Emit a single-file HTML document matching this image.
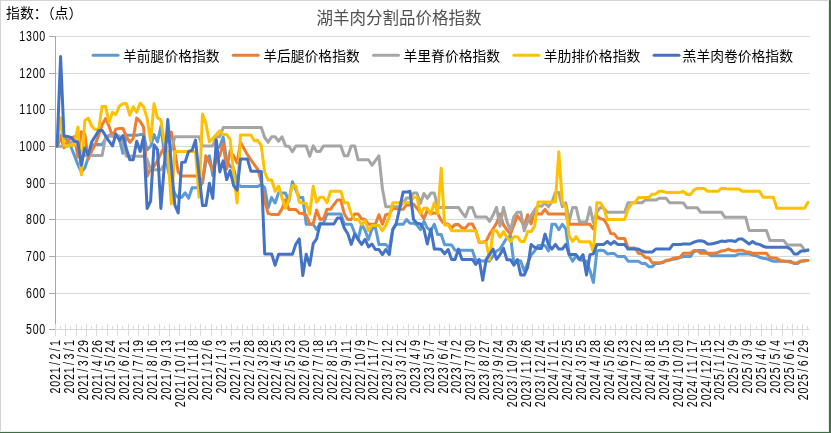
<!DOCTYPE html>
<html lang="zh"><head><meta charset="utf-8"><title>湖羊肉分割品价格指数</title>
<style>
html,body{margin:0;padding:0;background:#fff;}
body{width:831px;height:433px;overflow:hidden;font-family:"Liberation Sans",sans-serif;}
svg{display:block;will-change:transform}
.num{font-family:"Liberation Sans",sans-serif;font-size:13.33px;fill:#000;}
.cjk{font-family:"Liberation Sans","Noto Sans CJK SC",sans-serif;}
</style></head><body>
<svg width="831" height="433" viewBox="0 0 831 433">
<rect x="0" y="0" width="831" height="433" fill="#fff"/>

<g fill="#d9d9d9">
<rect x="56" y="36" width="754" height="1"/>
<rect x="56" y="73" width="754" height="1"/>
<rect x="56" y="109" width="754" height="1"/>
<rect x="56" y="146" width="754" height="1"/>
<rect x="56" y="183" width="754" height="1"/>
<rect x="56" y="219" width="754" height="1"/>
<rect x="56" y="256" width="754" height="1"/>
<rect x="56" y="293" width="754" height="1"/>
<rect x="56" y="329" width="754" height="1"/>
</g>
<g fill="#d9d9d9">
<rect x="55" y="324" width="1" height="12"/>
<rect x="60" y="326" width="1" height="3"/>
<rect x="65" y="324" width="1" height="12"/>
<rect x="70" y="326" width="1" height="3"/>
<rect x="76" y="324" width="1" height="12"/>
<rect x="81" y="326" width="1" height="3"/>
<rect x="86" y="324" width="1" height="12"/>
<rect x="91" y="326" width="1" height="3"/>
<rect x="96" y="324" width="1" height="12"/>
<rect x="102" y="326" width="1" height="3"/>
<rect x="107" y="324" width="1" height="12"/>
<rect x="112" y="326" width="1" height="3"/>
<rect x="117" y="324" width="1" height="12"/>
<rect x="122" y="326" width="1" height="3"/>
<rect x="128" y="324" width="1" height="12"/>
<rect x="133" y="326" width="1" height="3"/>
<rect x="138" y="324" width="1" height="12"/>
<rect x="143" y="326" width="1" height="3"/>
<rect x="148" y="324" width="1" height="12"/>
<rect x="154" y="326" width="1" height="3"/>
<rect x="159" y="324" width="1" height="12"/>
<rect x="164" y="326" width="1" height="3"/>
<rect x="169" y="324" width="1" height="12"/>
<rect x="174" y="326" width="1" height="3"/>
<rect x="179" y="324" width="1" height="12"/>
<rect x="185" y="326" width="1" height="3"/>
<rect x="190" y="324" width="1" height="12"/>
<rect x="195" y="326" width="1" height="3"/>
<rect x="200" y="324" width="1" height="12"/>
<rect x="205" y="326" width="1" height="3"/>
<rect x="211" y="324" width="1" height="12"/>
<rect x="216" y="326" width="1" height="3"/>
<rect x="221" y="324" width="1" height="12"/>
<rect x="226" y="326" width="1" height="3"/>
<rect x="231" y="324" width="1" height="12"/>
<rect x="237" y="326" width="1" height="3"/>
<rect x="242" y="324" width="1" height="12"/>
<rect x="247" y="326" width="1" height="3"/>
<rect x="252" y="324" width="1" height="12"/>
<rect x="257" y="326" width="1" height="3"/>
<rect x="263" y="324" width="1" height="12"/>
<rect x="268" y="326" width="1" height="3"/>
<rect x="273" y="324" width="1" height="12"/>
<rect x="278" y="326" width="1" height="3"/>
<rect x="283" y="324" width="1" height="12"/>
<rect x="288" y="326" width="1" height="3"/>
<rect x="294" y="324" width="1" height="12"/>
<rect x="299" y="326" width="1" height="3"/>
<rect x="304" y="324" width="1" height="12"/>
<rect x="309" y="326" width="1" height="3"/>
<rect x="314" y="324" width="1" height="12"/>
<rect x="320" y="326" width="1" height="3"/>
<rect x="325" y="324" width="1" height="12"/>
<rect x="330" y="326" width="1" height="3"/>
<rect x="335" y="324" width="1" height="12"/>
<rect x="340" y="326" width="1" height="3"/>
<rect x="346" y="324" width="1" height="12"/>
<rect x="351" y="326" width="1" height="3"/>
<rect x="356" y="324" width="1" height="12"/>
<rect x="361" y="326" width="1" height="3"/>
<rect x="366" y="324" width="1" height="12"/>
<rect x="371" y="326" width="1" height="3"/>
<rect x="377" y="324" width="1" height="12"/>
<rect x="382" y="326" width="1" height="3"/>
<rect x="387" y="324" width="1" height="12"/>
<rect x="392" y="326" width="1" height="3"/>
<rect x="397" y="324" width="1" height="12"/>
<rect x="403" y="326" width="1" height="3"/>
<rect x="408" y="324" width="1" height="12"/>
<rect x="413" y="326" width="1" height="3"/>
<rect x="418" y="324" width="1" height="12"/>
<rect x="423" y="326" width="1" height="3"/>
<rect x="429" y="324" width="1" height="12"/>
<rect x="434" y="326" width="1" height="3"/>
<rect x="439" y="324" width="1" height="12"/>
<rect x="444" y="326" width="1" height="3"/>
<rect x="449" y="324" width="1" height="12"/>
<rect x="455" y="326" width="1" height="3"/>
<rect x="460" y="324" width="1" height="12"/>
<rect x="465" y="326" width="1" height="3"/>
<rect x="470" y="324" width="1" height="12"/>
<rect x="475" y="326" width="1" height="3"/>
<rect x="480" y="324" width="1" height="12"/>
<rect x="486" y="326" width="1" height="3"/>
<rect x="491" y="324" width="1" height="12"/>
<rect x="496" y="326" width="1" height="3"/>
<rect x="501" y="324" width="1" height="12"/>
<rect x="506" y="326" width="1" height="3"/>
<rect x="512" y="324" width="1" height="12"/>
<rect x="517" y="326" width="1" height="3"/>
<rect x="522" y="324" width="1" height="12"/>
<rect x="527" y="326" width="1" height="3"/>
<rect x="532" y="324" width="1" height="12"/>
<rect x="538" y="326" width="1" height="3"/>
<rect x="543" y="324" width="1" height="12"/>
<rect x="548" y="326" width="1" height="3"/>
<rect x="553" y="324" width="1" height="12"/>
<rect x="558" y="326" width="1" height="3"/>
<rect x="564" y="324" width="1" height="12"/>
<rect x="569" y="326" width="1" height="3"/>
<rect x="574" y="324" width="1" height="12"/>
<rect x="579" y="326" width="1" height="3"/>
<rect x="584" y="324" width="1" height="12"/>
<rect x="589" y="326" width="1" height="3"/>
<rect x="595" y="324" width="1" height="12"/>
<rect x="600" y="326" width="1" height="3"/>
<rect x="605" y="324" width="1" height="12"/>
<rect x="610" y="326" width="1" height="3"/>
<rect x="615" y="324" width="1" height="12"/>
<rect x="621" y="326" width="1" height="3"/>
<rect x="626" y="324" width="1" height="12"/>
<rect x="631" y="326" width="1" height="3"/>
<rect x="636" y="324" width="1" height="12"/>
<rect x="641" y="326" width="1" height="3"/>
<rect x="647" y="324" width="1" height="12"/>
<rect x="652" y="326" width="1" height="3"/>
<rect x="657" y="324" width="1" height="12"/>
<rect x="662" y="326" width="1" height="3"/>
<rect x="667" y="324" width="1" height="12"/>
<rect x="673" y="326" width="1" height="3"/>
<rect x="678" y="324" width="1" height="12"/>
<rect x="683" y="326" width="1" height="3"/>
<rect x="688" y="324" width="1" height="12"/>
<rect x="693" y="326" width="1" height="3"/>
<rect x="698" y="324" width="1" height="12"/>
<rect x="704" y="326" width="1" height="3"/>
<rect x="709" y="324" width="1" height="12"/>
<rect x="714" y="326" width="1" height="3"/>
<rect x="719" y="324" width="1" height="12"/>
<rect x="724" y="326" width="1" height="3"/>
<rect x="730" y="324" width="1" height="12"/>
<rect x="735" y="326" width="1" height="3"/>
<rect x="740" y="324" width="1" height="12"/>
<rect x="745" y="326" width="1" height="3"/>
<rect x="750" y="324" width="1" height="12"/>
<rect x="756" y="326" width="1" height="3"/>
<rect x="761" y="324" width="1" height="12"/>
<rect x="766" y="326" width="1" height="3"/>
<rect x="771" y="324" width="1" height="12"/>
<rect x="776" y="326" width="1" height="3"/>
<rect x="782" y="324" width="1" height="12"/>
<rect x="787" y="326" width="1" height="3"/>
<rect x="792" y="324" width="1" height="12"/>
<rect x="797" y="326" width="1" height="3"/>
<rect x="802" y="324" width="1" height="12"/>
<rect x="807" y="326" width="1" height="3"/>
</g>
<g fill="#a6a6a6">
<rect x="55" y="36" width="1" height="288"/>
<rect x="49" y="36" width="6" height="1"/>
<rect x="49" y="73" width="6" height="1"/>
<rect x="49" y="109" width="6" height="1"/>
<rect x="49" y="146" width="6" height="1"/>
<rect x="49" y="183" width="6" height="1"/>
<rect x="49" y="219" width="6" height="1"/>
<rect x="49" y="256" width="6" height="1"/>
<rect x="49" y="293" width="6" height="1"/>
<rect x="49" y="329" width="6" height="1"/>
</g>
<polyline fill="none" stroke="#5B9BD5" stroke-width="3" stroke-linejoin="round" stroke-linecap="round" points="57.1,146.3 60.6,135.3 64.0,137.2 67.5,140.4 71.0,147.0 74.4,155.4 77.9,164.6 81.3,171.9 84.8,167.9 88.3,157.6 91.7,145.2 95.2,144.5 98.7,144.5 102.1,144.5 105.6,139.0 109.0,135.3 112.5,135.3 115.9,135.3 119.4,139.0 122.9,153.3 126.3,135.3 129.8,135.3 133.2,135.3 136.7,135.3 140.2,134.6 143.6,134.6 147.1,150.0 150.6,146.3 154.0,134.6 157.5,141.9 160.9,126.5 164.4,153.6 167.8,168.3 171.3,182.9 174.8,193.9 178.2,197.5 181.7,197.2 185.2,192.8 188.6,198.3 192.1,187.7 195.5,187.7 199.0,187.7 202.5,182.9 205.9,160.9 209.4,155.8 212.8,175.6 216.3,150.0 219.8,146.3 223.2,137.2 226.7,160.9 230.1,166.4 233.6,168.3 237.1,182.9 240.5,186.6 244.0,186.6 247.4,186.6 250.9,186.6 254.3,186.6 257.8,186.6 261.3,184.4 264.7,187.7 268.2,207.8 271.6,197.5 275.1,203.0 278.6,192.8 282.0,193.1 285.5,193.1 288.9,201.2 292.4,181.8 295.9,190.2 299.3,197.5 302.8,197.5 306.2,224.3 309.7,224.3 313.2,224.3 316.6,229.7 320.1,223.2 323.5,223.2 327.0,214.0 330.5,214.0 333.9,214.0 337.4,214.0 340.8,214.0 344.3,224.3 347.8,224.3 351.2,224.3 354.7,233.0 358.1,239.3 361.6,224.3 365.1,230.5 368.5,239.6 372.0,228.7 375.4,227.2 378.9,244.4 382.4,244.4 385.8,244.4 389.3,248.8 392.8,229.4 396.2,224.3 399.7,224.3 403.1,224.3 406.6,219.5 410.0,223.2 413.5,223.2 417.0,225.0 420.4,229.7 423.9,221.3 427.3,227.9 430.8,230.8 434.3,224.3 437.7,234.5 441.2,234.5 444.6,244.8 448.1,244.8 451.6,245.1 455.0,250.2 458.5,250.2 461.9,250.2 465.4,250.2 468.9,250.2 472.3,250.2 475.8,260.5 479.2,260.5 482.7,260.9 486.2,260.9 489.6,260.9 493.1,256.1 496.5,251.0 500.0,249.1 503.5,243.3 506.9,237.8 510.4,236.0 513.9,263.4 517.3,259.8 520.8,261.2 524.2,271.1 527.7,263.4 531.1,255.0 534.6,251.0 538.1,245.5 541.5,245.5 545.0,245.5 548.5,251.0 551.9,224.3 555.4,224.3 558.8,229.7 562.3,224.3 565.8,228.7 569.2,255.0 572.7,261.2 576.1,255.7 579.6,259.8 583.0,260.5 586.5,261.2 590.0,270.7 593.4,282.5 596.9,251.0 600.4,250.2 603.8,250.6 607.3,253.9 610.7,253.5 614.2,253.5 617.6,256.5 621.1,256.5 624.6,256.5 628.0,261.2 631.5,261.2 634.9,261.2 638.4,261.2 641.9,263.4 645.3,263.4 648.8,266.7 652.2,266.7 655.7,263.4 659.2,263.4 662.6,262.3 666.1,260.5 669.5,260.1 673.0,259.4 676.5,258.7 679.9,257.6 683.4,256.5 686.9,256.5 690.3,256.5 693.8,251.7 697.2,250.6 700.7,250.6 704.1,250.6 707.6,253.5 711.1,255.7 714.5,255.4 718.0,255.7 721.4,255.7 724.9,255.7 728.4,255.7 731.8,255.7 735.3,255.7 738.8,253.9 742.2,253.9 745.7,253.9 749.1,253.9 752.6,255.0 756.0,255.7 759.5,257.2 763.0,258.3 766.4,258.7 769.9,260.1 773.4,261.2 776.8,261.2 780.3,261.2 783.7,261.2 787.2,261.2 790.6,261.2 794.1,263.4 797.6,263.4 801.0,261.2 804.5,260.9 807.9,260.5"/>
<polyline fill="none" stroke="#ED7D31" stroke-width="3" stroke-linejoin="round" stroke-linecap="round" points="57.1,146.3 60.6,137.2 64.0,147.8 67.5,140.8 71.0,137.9 74.4,136.8 77.9,156.9 81.3,131.7 84.8,134.2 88.3,159.1 91.7,151.1 95.2,144.5 98.7,135.3 102.1,124.7 105.6,118.5 109.0,126.2 112.5,136.4 115.9,129.1 119.4,128.4 122.9,128.4 126.3,136.4 129.8,142.3 133.2,138.6 136.7,118.1 140.2,121.4 143.6,127.3 147.1,176.3 150.6,168.3 154.0,166.4 157.5,160.6 160.9,153.3 164.4,146.3 167.8,139.0 171.3,132.0 174.8,151.4 178.2,171.9 181.7,175.9 185.2,175.9 188.6,175.9 192.1,175.9 195.5,175.9 199.0,178.5 202.5,181.1 205.9,155.8 209.4,162.8 212.8,170.1 216.3,160.9 219.8,155.4 223.2,143.7 226.7,169.0 230.1,151.1 233.6,155.8 237.1,162.8 240.5,142.3 244.0,148.5 247.4,154.7 250.9,159.8 254.3,164.6 257.8,169.4 261.3,181.8 264.7,201.2 268.2,213.6 271.6,214.4 275.1,214.4 278.6,214.4 282.0,208.9 285.5,199.7 288.9,209.6 292.4,209.6 295.9,209.6 299.3,213.3 302.8,213.6 306.2,215.1 309.7,223.9 313.2,223.9 316.6,210.0 320.1,219.5 323.5,218.8 327.0,209.3 330.5,209.3 333.9,204.5 337.4,200.1 340.8,200.1 344.3,214.0 347.8,219.5 351.2,219.5 354.7,214.0 358.1,214.0 361.6,218.8 365.1,219.5 368.5,224.3 372.0,224.3 375.4,224.3 378.9,214.7 382.4,224.3 385.8,214.7 389.3,214.0 392.8,208.5 396.2,208.5 399.7,209.3 403.1,209.3 406.6,204.9 410.0,204.9 413.5,204.1 417.0,208.2 420.4,212.9 423.9,218.8 427.3,210.3 430.8,214.0 434.3,212.9 437.7,213.6 441.2,220.2 444.6,223.9 448.1,223.9 451.6,227.9 455.0,224.6 458.5,224.6 461.9,227.9 465.4,227.9 468.9,223.9 472.3,223.9 475.8,230.8 479.2,242.2 482.7,242.2 486.2,241.1 489.6,234.1 493.1,228.7 496.5,223.2 500.0,214.0 503.5,225.0 506.9,229.7 510.4,234.1 513.9,225.0 517.3,215.8 520.8,220.2 524.2,226.1 527.7,214.7 531.1,223.9 534.6,210.0 538.1,214.0 541.5,214.0 545.0,209.3 548.5,214.0 551.9,214.0 555.4,214.0 558.8,214.0 562.3,214.0 565.8,214.0 569.2,224.3 572.7,224.3 576.1,224.3 579.6,224.3 583.0,224.3 586.5,224.3 590.0,224.3 593.4,229.0 596.9,215.8 600.4,218.8 603.8,219.5 607.3,225.0 610.7,233.4 614.2,233.8 617.6,238.2 621.1,238.5 624.6,238.5 628.0,248.0 631.5,248.0 634.9,248.0 638.4,253.2 641.9,253.9 645.3,257.6 648.8,257.9 652.2,262.7 655.7,262.7 659.2,262.7 662.6,262.7 666.1,260.5 669.5,260.1 673.0,258.3 676.5,257.6 679.9,257.2 683.4,253.2 686.9,253.2 690.3,253.2 693.8,250.6 697.2,250.6 700.7,253.2 704.1,253.2 707.6,253.2 711.1,253.2 714.5,253.2 718.0,252.4 721.4,251.0 724.9,250.6 728.4,249.1 731.8,250.6 735.3,251.0 738.8,250.2 742.2,250.2 745.7,251.7 749.1,252.1 752.6,253.2 756.0,253.2 759.5,253.2 763.0,253.2 766.4,253.2 769.9,257.6 773.4,257.9 776.8,258.3 780.3,260.5 783.7,260.9 787.2,261.6 790.6,262.3 794.1,263.1 797.6,262.7 801.0,260.9 804.5,260.5 807.9,260.5"/>
<polyline fill="none" stroke="#A5A5A5" stroke-width="3" stroke-linejoin="round" stroke-linecap="round" points="57.1,146.3 60.6,146.3 64.0,146.3 67.5,146.3 71.0,141.9 74.4,141.9 77.9,146.3 81.3,151.8 84.8,155.4 88.3,155.4 91.7,155.4 95.2,155.4 98.7,155.4 102.1,155.4 105.6,136.4 109.0,136.1 112.5,136.1 115.9,136.1 119.4,136.1 122.9,142.6 126.3,156.2 129.8,156.2 133.2,156.2 136.7,156.2 140.2,156.2 143.6,156.2 147.1,159.1 150.6,169.7 154.0,169.7 157.5,169.7 160.9,169.7 164.4,164.6 167.8,157.3 171.3,150.0 174.8,136.8 178.2,136.8 181.7,136.8 185.2,136.8 188.6,136.8 192.1,136.8 195.5,136.8 199.0,136.8 202.5,145.9 205.9,145.9 209.4,145.9 212.8,145.9 216.3,136.8 219.8,136.8 223.2,127.6 226.7,127.6 230.1,127.6 233.6,127.6 237.1,127.6 240.5,127.6 244.0,127.6 247.4,127.6 250.9,127.6 254.3,127.6 257.8,127.6 261.3,127.6 264.7,137.5 268.2,142.3 271.6,136.8 275.1,136.8 278.6,141.2 282.0,136.8 285.5,145.9 288.9,146.3 292.4,151.8 295.9,145.9 299.3,145.9 302.8,145.9 306.2,145.9 309.7,156.2 313.2,145.9 316.6,151.4 320.1,151.4 323.5,145.9 327.0,145.9 330.5,145.9 333.9,145.9 337.4,145.9 340.8,145.9 344.3,155.8 347.8,155.8 351.2,145.9 354.7,145.9 358.1,159.8 361.6,159.8 365.1,159.8 368.5,159.8 372.0,165.3 375.4,160.6 378.9,155.8 382.4,188.4 385.8,206.7 389.3,206.7 392.8,206.7 396.2,206.7 399.7,206.7 403.1,203.0 406.6,197.9 410.0,197.9 413.5,193.1 417.0,193.1 420.4,203.4 423.9,193.5 427.3,198.3 430.8,193.1 434.3,193.1 437.7,207.4 441.2,207.4 444.6,207.4 448.1,207.4 451.6,207.4 455.0,207.4 458.5,207.4 461.9,212.5 465.4,216.9 468.9,207.4 472.3,207.4 475.8,216.9 479.2,216.9 482.7,216.9 486.2,216.9 489.6,221.3 493.1,215.1 496.5,207.4 500.0,226.1 503.5,207.4 506.9,221.3 510.4,230.8 513.9,216.6 517.3,212.2 520.8,212.2 524.2,230.8 527.7,221.3 531.1,215.8 534.6,210.0 538.1,205.6 541.5,206.3 545.0,203.0 548.5,206.7 551.9,201.9 555.4,192.4 558.8,192.4 562.3,206.7 565.8,202.7 569.2,221.3 572.7,207.4 576.1,207.4 579.6,222.1 583.0,222.1 586.5,222.1 590.0,207.4 593.4,222.4 596.9,212.2 600.4,207.4 603.8,208.2 607.3,212.2 610.7,212.2 614.2,212.2 617.6,212.2 621.1,212.2 624.6,212.2 628.0,202.7 631.5,202.7 634.9,202.7 638.4,202.7 641.9,202.7 645.3,200.1 648.8,200.1 652.2,200.1 655.7,200.1 659.2,198.3 662.6,198.3 666.1,198.3 669.5,202.7 673.0,202.7 676.5,202.7 679.9,202.7 683.4,203.0 686.9,207.8 690.3,207.8 693.8,207.8 697.2,207.8 700.7,212.2 704.1,212.2 707.6,212.2 711.1,212.2 714.5,212.2 718.0,212.2 721.4,212.2 724.9,217.3 728.4,217.3 731.8,217.3 735.3,217.3 738.8,217.3 742.2,217.3 745.7,217.3 749.1,230.5 752.6,230.5 756.0,230.5 759.5,230.5 763.0,230.5 766.4,230.5 769.9,240.4 773.4,240.4 776.8,240.4 780.3,240.4 783.7,240.4 787.2,245.1 790.6,245.1 794.1,245.1 797.6,245.1 801.0,245.1 804.5,249.9 807.9,250.6"/>
<polyline fill="none" stroke="#FFC000" stroke-width="3" stroke-linejoin="round" stroke-linecap="round" points="57.1,146.3 60.6,117.8 64.0,145.2 67.5,145.6 71.0,145.2 74.4,145.2 77.9,126.9 81.3,174.8 84.8,120.7 88.3,118.1 91.7,126.2 95.2,129.5 98.7,129.1 102.1,106.4 105.6,106.4 109.0,122.5 112.5,112.3 115.9,114.5 119.4,106.0 122.9,103.8 126.3,103.5 129.8,115.2 133.2,106.8 136.7,112.3 140.2,103.1 143.6,106.8 147.1,118.1 150.6,141.2 154.0,103.8 157.5,117.8 160.9,119.9 164.4,142.6 167.8,151.8 171.3,203.8 174.8,151.4 178.2,151.4 181.7,151.4 185.2,151.4 188.6,151.4 192.1,151.4 195.5,151.4 199.0,197.2 202.5,114.1 205.9,123.6 209.4,141.9 212.8,138.2 216.3,134.6 219.8,130.9 223.2,134.6 226.7,134.6 230.1,139.3 233.6,171.9 237.1,203.0 240.5,135.0 244.0,135.0 247.4,135.0 250.9,135.0 254.3,140.8 257.8,140.4 261.3,145.9 264.7,172.3 268.2,180.0 271.6,180.0 275.1,191.3 278.6,186.2 282.0,197.5 285.5,208.2 288.9,199.7 292.4,185.5 295.9,186.2 299.3,202.3 302.8,203.0 306.2,203.4 309.7,214.0 313.2,186.2 316.6,202.3 320.1,197.2 323.5,197.2 327.0,202.7 330.5,191.3 333.9,191.3 337.4,191.3 340.8,191.3 344.3,202.7 347.8,202.7 351.2,214.0 354.7,219.5 358.1,219.5 361.6,224.6 365.1,220.6 368.5,230.8 372.0,225.4 375.4,225.4 378.9,225.4 382.4,230.8 385.8,225.4 389.3,216.9 392.8,202.7 396.2,202.7 399.7,202.7 403.1,202.7 406.6,202.7 410.0,202.7 413.5,197.2 417.0,197.2 420.4,213.6 423.9,208.2 427.3,208.2 430.8,213.6 434.3,202.7 437.7,213.6 441.2,168.3 444.6,225.0 448.1,225.0 451.6,230.8 455.0,230.8 458.5,230.8 461.9,230.8 465.4,230.8 468.9,230.8 472.3,230.8 475.8,230.8 479.2,242.2 482.7,242.2 486.2,242.2 489.6,259.8 493.1,230.8 496.5,230.8 500.0,237.1 503.5,231.6 506.9,237.1 510.4,241.5 513.9,236.7 517.3,236.7 520.8,241.5 524.2,241.5 527.7,231.6 531.1,231.6 534.6,226.1 538.1,201.9 541.5,201.9 545.0,201.9 548.5,201.9 551.9,201.9 555.4,201.9 558.8,151.8 562.3,201.9 565.8,207.4 569.2,236.3 572.7,241.5 576.1,236.7 579.6,241.8 583.0,241.8 586.5,241.8 590.0,241.8 593.4,251.7 596.9,202.7 600.4,202.7 603.8,208.2 607.3,219.5 610.7,219.5 614.2,219.5 617.6,219.5 621.1,219.5 624.6,219.5 628.0,209.3 631.5,203.4 634.9,202.7 638.4,197.5 641.9,197.5 645.3,197.5 648.8,197.5 652.2,194.2 655.7,193.9 659.2,191.3 662.6,191.3 666.1,192.4 669.5,192.4 673.0,192.4 676.5,192.4 679.9,192.4 683.4,191.3 686.9,194.6 690.3,194.6 693.8,190.2 697.2,188.4 700.7,188.4 704.1,188.4 707.6,191.3 711.1,191.3 714.5,191.3 718.0,191.3 721.4,188.4 724.9,188.4 728.4,189.1 731.8,189.1 735.3,189.1 738.8,189.1 742.2,191.3 745.7,191.3 749.1,191.3 752.6,191.3 756.0,191.3 759.5,191.3 763.0,197.2 766.4,197.2 769.9,197.2 773.4,197.2 776.8,208.2 780.3,208.2 783.7,208.2 787.2,208.2 790.6,208.2 794.1,208.2 797.6,208.2 801.0,208.2 804.5,208.2 807.9,202.3"/>
<polyline fill="none" stroke="#4472C4" stroke-width="3" stroke-linejoin="round" stroke-linecap="round" points="57.1,146.3 60.6,56.6 64.0,136.1 67.5,136.4 71.0,137.5 74.4,141.2 77.9,141.9 81.3,165.3 84.8,148.1 88.3,155.1 91.7,141.9 95.2,136.4 98.7,130.6 102.1,130.2 105.6,135.7 109.0,141.2 112.5,145.9 115.9,133.9 119.4,140.4 122.9,135.7 126.3,148.5 129.8,159.8 133.2,159.8 136.7,141.2 140.2,151.4 143.6,136.8 147.1,208.5 150.6,201.2 154.0,144.8 157.5,149.6 160.9,208.5 164.4,164.6 167.8,119.6 171.3,164.6 174.8,204.9 178.2,212.9 181.7,162.4 185.2,162.0 188.6,151.4 192.1,150.3 195.5,140.1 199.0,173.8 202.5,205.6 205.9,205.6 209.4,183.3 212.8,198.3 216.3,140.1 219.8,171.9 223.2,160.9 226.7,179.6 230.1,170.5 233.6,185.5 237.1,190.2 240.5,159.1 244.0,159.1 247.4,159.1 250.9,171.2 254.3,171.2 257.8,171.2 261.3,171.6 264.7,253.9 268.2,253.9 271.6,253.9 275.1,265.2 278.6,254.3 282.0,254.3 285.5,254.3 288.9,254.3 292.4,254.3 295.9,244.0 299.3,238.9 302.8,275.5 306.2,254.3 309.7,265.2 313.2,243.7 316.6,238.9 320.1,223.9 323.5,223.9 327.0,223.9 330.5,223.9 333.9,223.9 337.4,218.0 340.8,218.0 344.3,228.3 347.8,233.8 351.2,244.4 354.7,234.1 358.1,239.3 361.6,244.4 365.1,239.3 368.5,246.9 372.0,244.0 375.4,249.5 378.9,249.5 382.4,254.6 385.8,249.5 389.3,254.6 392.8,229.4 396.2,223.5 399.7,208.2 403.1,192.1 406.6,192.1 410.0,191.3 413.5,219.5 417.0,223.2 420.4,223.9 423.9,229.0 427.3,244.0 430.8,229.0 434.3,249.1 437.7,249.1 441.2,249.5 444.6,253.9 448.1,249.5 451.6,259.4 455.0,259.4 458.5,249.1 461.9,259.4 465.4,259.4 468.9,259.4 472.3,259.4 475.8,264.5 479.2,259.4 482.7,280.3 486.2,259.4 489.6,254.3 493.1,249.1 496.5,259.4 500.0,254.6 503.5,248.4 506.9,259.8 510.4,259.8 513.9,265.2 517.3,259.8 520.8,275.1 524.2,275.1 527.7,267.1 531.1,244.4 534.6,247.3 538.1,248.4 541.5,248.4 545.0,234.1 548.5,244.4 551.9,249.1 555.4,244.4 558.8,249.1 562.3,249.1 565.8,244.4 569.2,254.6 572.7,254.6 576.1,254.6 579.6,259.4 583.0,254.6 586.5,275.1 590.0,254.6 593.4,253.9 596.9,244.4 600.4,244.4 603.8,244.4 607.3,241.5 610.7,244.4 614.2,241.5 617.6,244.4 621.1,244.4 624.6,244.4 628.0,249.1 631.5,249.1 634.9,249.1 638.4,249.1 641.9,251.0 645.3,252.1 648.8,252.1 652.2,252.1 655.7,249.1 659.2,249.1 662.6,249.1 666.1,249.1 669.5,249.1 673.0,244.4 676.5,244.4 679.9,244.4 683.4,244.0 686.9,244.0 690.3,244.0 693.8,242.2 697.2,241.1 700.7,240.7 704.1,241.5 707.6,244.0 711.1,244.0 714.5,243.3 718.0,242.2 721.4,241.1 724.9,241.5 728.4,240.7 731.8,240.7 735.3,241.5 738.8,238.9 742.2,238.9 745.7,241.5 749.1,244.0 752.6,241.5 756.0,243.7 759.5,244.4 763.0,246.2 766.4,247.3 769.9,247.3 773.4,247.3 776.8,247.3 780.3,247.3 783.7,247.3 787.2,247.3 790.6,249.1 794.1,253.9 797.6,253.9 801.0,251.0 804.5,251.0 807.9,249.9"/>
<text class="num" text-anchor="middle" transform="translate(45.6,41.4) scale(0.8,1.03)" x="-29.18 -20.84 -12.51 -4.17" y="0">1300</text>
<text class="num" text-anchor="middle" transform="translate(45.6,78.4) scale(0.8,1.03)" x="-29.18 -20.84 -12.51 -4.17" y="0">1200</text>
<text class="num" text-anchor="middle" transform="translate(45.6,114.4) scale(0.8,1.03)" x="-29.18 -20.84 -12.51 -4.17" y="0">1100</text>
<text class="num" text-anchor="middle" transform="translate(45.6,151.4) scale(0.8,1.03)" x="-29.18 -20.84 -12.51 -4.17" y="0">1000</text>
<text class="num" text-anchor="middle" transform="translate(45.6,188.4) scale(0.8,1.03)" x="-20.84 -12.51 -4.17" y="0">900</text>
<text class="num" text-anchor="middle" transform="translate(45.6,224.4) scale(0.8,1.03)" x="-20.84 -12.51 -4.17" y="0">800</text>
<text class="num" text-anchor="middle" transform="translate(45.6,261.4) scale(0.8,1.03)" x="-20.84 -12.51 -4.17" y="0">700</text>
<text class="num" text-anchor="middle" transform="translate(45.6,298.4) scale(0.8,1.03)" x="-20.84 -12.51 -4.17" y="0">600</text>
<text class="num" text-anchor="middle" transform="translate(45.6,334.4) scale(0.8,1.03)" x="-20.84 -12.51 -4.17" y="0">500</text>
<text class="num" text-anchor="middle" transform="translate(60.00,339.6) rotate(-90) scale(0.8,1.03)" x="-63.75 -55.25 -46.75 -38.25 -29.75 -21.25 -12.75 -4.25" y="0">2021/2/1</text>
<text class="num" text-anchor="middle" transform="translate(73.84,339.6) rotate(-90) scale(0.8,1.03)" x="-63.75 -55.25 -46.75 -38.25 -29.75 -21.25 -12.75 -4.25" y="0">2021/3/1</text>
<text class="num" text-anchor="middle" transform="translate(87.69,339.6) rotate(-90) scale(0.8,1.03)" x="-72.25 -63.75 -55.25 -46.75 -38.25 -29.75 -21.25 -12.75 -4.25" y="0">2021/3/29</text>
<text class="num" text-anchor="middle" transform="translate(101.53,339.6) rotate(-90) scale(0.8,1.03)" x="-72.25 -63.75 -55.25 -46.75 -38.25 -29.75 -21.25 -12.75 -4.25" y="0">2021/4/26</text>
<text class="num" text-anchor="middle" transform="translate(115.37,339.6) rotate(-90) scale(0.8,1.03)" x="-72.25 -63.75 -55.25 -46.75 -38.25 -29.75 -21.25 -12.75 -4.25" y="0">2021/5/24</text>
<text class="num" text-anchor="middle" transform="translate(129.22,339.6) rotate(-90) scale(0.8,1.03)" x="-72.25 -63.75 -55.25 -46.75 -38.25 -29.75 -21.25 -12.75 -4.25" y="0">2021/6/21</text>
<text class="num" text-anchor="middle" transform="translate(143.06,339.6) rotate(-90) scale(0.8,1.03)" x="-72.25 -63.75 -55.25 -46.75 -38.25 -29.75 -21.25 -12.75 -4.25" y="0">2021/7/19</text>
<text class="num" text-anchor="middle" transform="translate(156.90,339.6) rotate(-90) scale(0.8,1.03)" x="-72.25 -63.75 -55.25 -46.75 -38.25 -29.75 -21.25 -12.75 -4.25" y="0">2021/8/16</text>
<text class="num" text-anchor="middle" transform="translate(170.74,339.6) rotate(-90) scale(0.8,1.03)" x="-72.25 -63.75 -55.25 -46.75 -38.25 -29.75 -21.25 -12.75 -4.25" y="0">2021/9/13</text>
<text class="num" text-anchor="middle" transform="translate(184.59,339.6) rotate(-90) scale(0.8,1.03)" x="-80.75 -72.25 -63.75 -55.25 -46.75 -38.25 -29.75 -21.25 -12.75 -4.25" y="0">2021/10/11</text>
<text class="num" text-anchor="middle" transform="translate(198.43,339.6) rotate(-90) scale(0.8,1.03)" x="-72.25 -63.75 -55.25 -46.75 -38.25 -29.75 -21.25 -12.75 -4.25" y="0">2021/11/8</text>
<text class="num" text-anchor="middle" transform="translate(212.27,339.6) rotate(-90) scale(0.8,1.03)" x="-72.25 -63.75 -55.25 -46.75 -38.25 -29.75 -21.25 -12.75 -4.25" y="0">2021/12/6</text>
<text class="num" text-anchor="middle" transform="translate(226.12,339.6) rotate(-90) scale(0.8,1.03)" x="-63.75 -55.25 -46.75 -38.25 -29.75 -21.25 -12.75 -4.25" y="0">2022/1/3</text>
<text class="num" text-anchor="middle" transform="translate(239.96,339.6) rotate(-90) scale(0.8,1.03)" x="-72.25 -63.75 -55.25 -46.75 -38.25 -29.75 -21.25 -12.75 -4.25" y="0">2022/1/31</text>
<text class="num" text-anchor="middle" transform="translate(253.80,339.6) rotate(-90) scale(0.8,1.03)" x="-72.25 -63.75 -55.25 -46.75 -38.25 -29.75 -21.25 -12.75 -4.25" y="0">2022/2/28</text>
<text class="num" text-anchor="middle" transform="translate(267.64,339.6) rotate(-90) scale(0.8,1.03)" x="-72.25 -63.75 -55.25 -46.75 -38.25 -29.75 -21.25 -12.75 -4.25" y="0">2022/3/28</text>
<text class="num" text-anchor="middle" transform="translate(281.49,339.6) rotate(-90) scale(0.8,1.03)" x="-72.25 -63.75 -55.25 -46.75 -38.25 -29.75 -21.25 -12.75 -4.25" y="0">2022/4/25</text>
<text class="num" text-anchor="middle" transform="translate(295.33,339.6) rotate(-90) scale(0.8,1.03)" x="-72.25 -63.75 -55.25 -46.75 -38.25 -29.75 -21.25 -12.75 -4.25" y="0">2022/5/23</text>
<text class="num" text-anchor="middle" transform="translate(309.17,339.6) rotate(-90) scale(0.8,1.03)" x="-72.25 -63.75 -55.25 -46.75 -38.25 -29.75 -21.25 -12.75 -4.25" y="0">2022/6/20</text>
<text class="num" text-anchor="middle" transform="translate(323.02,339.6) rotate(-90) scale(0.8,1.03)" x="-72.25 -63.75 -55.25 -46.75 -38.25 -29.75 -21.25 -12.75 -4.25" y="0">2022/7/18</text>
<text class="num" text-anchor="middle" transform="translate(336.86,339.6) rotate(-90) scale(0.8,1.03)" x="-72.25 -63.75 -55.25 -46.75 -38.25 -29.75 -21.25 -12.75 -4.25" y="0">2022/8/15</text>
<text class="num" text-anchor="middle" transform="translate(350.70,339.6) rotate(-90) scale(0.8,1.03)" x="-72.25 -63.75 -55.25 -46.75 -38.25 -29.75 -21.25 -12.75 -4.25" y="0">2022/9/11</text>
<text class="num" text-anchor="middle" transform="translate(364.55,339.6) rotate(-90) scale(0.8,1.03)" x="-72.25 -63.75 -55.25 -46.75 -38.25 -29.75 -21.25 -12.75 -4.25" y="0">2022/10/9</text>
<text class="num" text-anchor="middle" transform="translate(378.39,339.6) rotate(-90) scale(0.8,1.03)" x="-72.25 -63.75 -55.25 -46.75 -38.25 -29.75 -21.25 -12.75 -4.25" y="0">2022/11/7</text>
<text class="num" text-anchor="middle" transform="translate(392.23,339.6) rotate(-90) scale(0.8,1.03)" x="-72.25 -63.75 -55.25 -46.75 -38.25 -29.75 -21.25 -12.75 -4.25" y="0">2023/2/12</text>
<text class="num" text-anchor="middle" transform="translate(406.07,339.6) rotate(-90) scale(0.8,1.03)" x="-72.25 -63.75 -55.25 -46.75 -38.25 -29.75 -21.25 -12.75 -4.25" y="0">2023/3/12</text>
<text class="num" text-anchor="middle" transform="translate(419.92,339.6) rotate(-90) scale(0.8,1.03)" x="-63.75 -55.25 -46.75 -38.25 -29.75 -21.25 -12.75 -4.25" y="0">2023/4/9</text>
<text class="num" text-anchor="middle" transform="translate(433.76,339.6) rotate(-90) scale(0.8,1.03)" x="-63.75 -55.25 -46.75 -38.25 -29.75 -21.25 -12.75 -4.25" y="0">2023/5/7</text>
<text class="num" text-anchor="middle" transform="translate(447.60,339.6) rotate(-90) scale(0.8,1.03)" x="-63.75 -55.25 -46.75 -38.25 -29.75 -21.25 -12.75 -4.25" y="0">2023/6/4</text>
<text class="num" text-anchor="middle" transform="translate(461.45,339.6) rotate(-90) scale(0.8,1.03)" x="-63.75 -55.25 -46.75 -38.25 -29.75 -21.25 -12.75 -4.25" y="0">2023/7/2</text>
<text class="num" text-anchor="middle" transform="translate(475.29,339.6) rotate(-90) scale(0.8,1.03)" x="-72.25 -63.75 -55.25 -46.75 -38.25 -29.75 -21.25 -12.75 -4.25" y="0">2023/7/30</text>
<text class="num" text-anchor="middle" transform="translate(489.13,339.6) rotate(-90) scale(0.8,1.03)" x="-72.25 -63.75 -55.25 -46.75 -38.25 -29.75 -21.25 -12.75 -4.25" y="0">2023/8/27</text>
<text class="num" text-anchor="middle" transform="translate(502.98,339.6) rotate(-90) scale(0.8,1.03)" x="-72.25 -63.75 -55.25 -46.75 -38.25 -29.75 -21.25 -12.75 -4.25" y="0">2023/9/24</text>
<text class="num" text-anchor="middle" transform="translate(516.82,339.6) rotate(-90) scale(0.8,1.03)" x="-80.75 -72.25 -63.75 -55.25 -46.75 -38.25 -29.75 -21.25 -12.75 -4.25" y="0">2023/10/29</text>
<text class="num" text-anchor="middle" transform="translate(530.66,339.6) rotate(-90) scale(0.8,1.03)" x="-80.75 -72.25 -63.75 -55.25 -46.75 -38.25 -29.75 -21.25 -12.75 -4.25" y="0">2023/11/26</text>
<text class="num" text-anchor="middle" transform="translate(544.50,339.6) rotate(-90) scale(0.8,1.03)" x="-80.75 -72.25 -63.75 -55.25 -46.75 -38.25 -29.75 -21.25 -12.75 -4.25" y="0">2023/12/24</text>
<text class="num" text-anchor="middle" transform="translate(558.35,339.6) rotate(-90) scale(0.8,1.03)" x="-72.25 -63.75 -55.25 -46.75 -38.25 -29.75 -21.25 -12.75 -4.25" y="0">2024/1/21</text>
<text class="num" text-anchor="middle" transform="translate(572.19,339.6) rotate(-90) scale(0.8,1.03)" x="-72.25 -63.75 -55.25 -46.75 -38.25 -29.75 -21.25 -12.75 -4.25" y="0">2024/2/25</text>
<text class="num" text-anchor="middle" transform="translate(586.03,339.6) rotate(-90) scale(0.8,1.03)" x="-72.25 -63.75 -55.25 -46.75 -38.25 -29.75 -21.25 -12.75 -4.25" y="0">2024/3/25</text>
<text class="num" text-anchor="middle" transform="translate(599.88,339.6) rotate(-90) scale(0.8,1.03)" x="-72.25 -63.75 -55.25 -46.75 -38.25 -29.75 -21.25 -12.75 -4.25" y="0">2024/4/28</text>
<text class="num" text-anchor="middle" transform="translate(613.72,339.6) rotate(-90) scale(0.8,1.03)" x="-72.25 -63.75 -55.25 -46.75 -38.25 -29.75 -21.25 -12.75 -4.25" y="0">2024/5/26</text>
<text class="num" text-anchor="middle" transform="translate(627.56,339.6) rotate(-90) scale(0.8,1.03)" x="-72.25 -63.75 -55.25 -46.75 -38.25 -29.75 -21.25 -12.75 -4.25" y="0">2024/6/23</text>
<text class="num" text-anchor="middle" transform="translate(641.41,339.6) rotate(-90) scale(0.8,1.03)" x="-72.25 -63.75 -55.25 -46.75 -38.25 -29.75 -21.25 -12.75 -4.25" y="0">2024/7/22</text>
<text class="num" text-anchor="middle" transform="translate(655.25,339.6) rotate(-90) scale(0.8,1.03)" x="-72.25 -63.75 -55.25 -46.75 -38.25 -29.75 -21.25 -12.75 -4.25" y="0">2024/8/18</text>
<text class="num" text-anchor="middle" transform="translate(669.09,339.6) rotate(-90) scale(0.8,1.03)" x="-72.25 -63.75 -55.25 -46.75 -38.25 -29.75 -21.25 -12.75 -4.25" y="0">2024/9/15</text>
<text class="num" text-anchor="middle" transform="translate(682.93,339.6) rotate(-90) scale(0.8,1.03)" x="-80.75 -72.25 -63.75 -55.25 -46.75 -38.25 -29.75 -21.25 -12.75 -4.25" y="0">2024/10/20</text>
<text class="num" text-anchor="middle" transform="translate(696.78,339.6) rotate(-90) scale(0.8,1.03)" x="-80.75 -72.25 -63.75 -55.25 -46.75 -38.25 -29.75 -21.25 -12.75 -4.25" y="0">2024/11/17</text>
<text class="num" text-anchor="middle" transform="translate(710.62,339.6) rotate(-90) scale(0.8,1.03)" x="-80.75 -72.25 -63.75 -55.25 -46.75 -38.25 -29.75 -21.25 -12.75 -4.25" y="0">2024/12/15</text>
<text class="num" text-anchor="middle" transform="translate(724.46,339.6) rotate(-90) scale(0.8,1.03)" x="-72.25 -63.75 -55.25 -46.75 -38.25 -29.75 -21.25 -12.75 -4.25" y="0">2025/1/12</text>
<text class="num" text-anchor="middle" transform="translate(738.31,339.6) rotate(-90) scale(0.8,1.03)" x="-63.75 -55.25 -46.75 -38.25 -29.75 -21.25 -12.75 -4.25" y="0">2025/2/9</text>
<text class="num" text-anchor="middle" transform="translate(752.15,339.6) rotate(-90) scale(0.8,1.03)" x="-63.75 -55.25 -46.75 -38.25 -29.75 -21.25 -12.75 -4.25" y="0">2025/3/9</text>
<text class="num" text-anchor="middle" transform="translate(765.99,339.6) rotate(-90) scale(0.8,1.03)" x="-63.75 -55.25 -46.75 -38.25 -29.75 -21.25 -12.75 -4.25" y="0">2025/4/6</text>
<text class="num" text-anchor="middle" transform="translate(779.84,339.6) rotate(-90) scale(0.8,1.03)" x="-63.75 -55.25 -46.75 -38.25 -29.75 -21.25 -12.75 -4.25" y="0">2025/5/4</text>
<text class="num" text-anchor="middle" transform="translate(793.68,339.6) rotate(-90) scale(0.8,1.03)" x="-63.75 -55.25 -46.75 -38.25 -29.75 -21.25 -12.75 -4.25" y="0">2025/6/1</text>
<text class="num" text-anchor="middle" transform="translate(807.52,339.6) rotate(-90) scale(0.8,1.03)" x="-72.25 -63.75 -55.25 -46.75 -38.25 -29.75 -21.25 -12.75 -4.25" y="0">2025/6/29</text>
<text class="cjk" x="399" y="24.3" text-anchor="middle" font-size="16.5" fill="#505050">湖羊肉分割品价格指数</text>
<text class="cjk" x="6" y="18.2" font-size="13.9" fill="#000">指数：（点）</text>
<line x1="93.1" y1="55.2" x2="118.0" y2="55.2" stroke="#5B9BD5" stroke-width="3" stroke-linecap="round"/>
<text class="cjk" x="123" y="60.5" font-size="13.8" fill="#000">羊前腿价格指数</text>
<line x1="233.3" y1="55.2" x2="258.2" y2="55.2" stroke="#ED7D31" stroke-width="3" stroke-linecap="round"/>
<text class="cjk" x="263.2" y="60.5" font-size="13.8" fill="#000">羊后腿价格指数</text>
<line x1="373.6" y1="55.2" x2="398.5" y2="55.2" stroke="#A5A5A5" stroke-width="3" stroke-linecap="round"/>
<text class="cjk" x="403.5" y="60.5" font-size="13.8" fill="#000">羊里脊价格指数</text>
<line x1="513.9" y1="55.2" x2="538.8" y2="55.2" stroke="#FFC000" stroke-width="3" stroke-linecap="round"/>
<text class="cjk" x="543.7" y="60.5" font-size="13.8" fill="#000">羊肋排价格指数</text>
<line x1="654.1" y1="55.2" x2="679.0" y2="55.2" stroke="#4472C4" stroke-width="3" stroke-linecap="round"/>
<text class="cjk" x="682.6" y="60.5" font-size="13.8" fill="#000">羔羊肉卷价格指数</text>
<rect x="0" y="0" width="828" height="1" fill="#d4d4d4"/>
<rect x="0" y="0" width="1" height="431" fill="#d4d4d4"/>
<rect x="828" y="0" width="1" height="432" fill="#ebebeb"/>
<rect x="0" y="431" width="829" height="1" fill="#ebebeb"/>
<rect x="829" y="0" width="2" height="433" fill="#436f49"/>
<rect x="0" y="432" width="831" height="1" fill="#3f6b45"/>
</svg></body></html>
